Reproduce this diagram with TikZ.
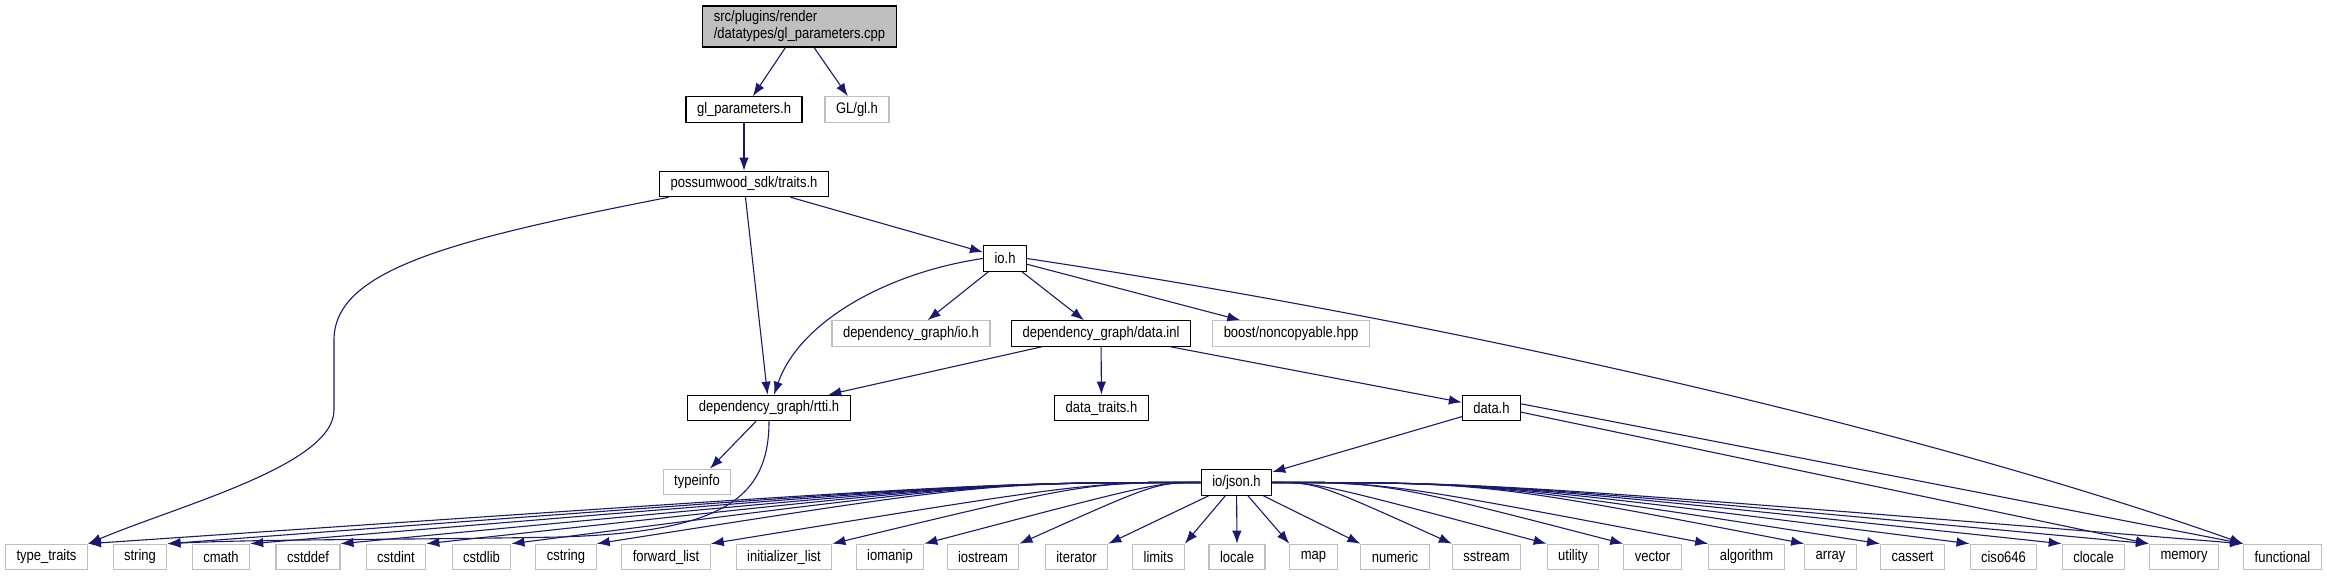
\documentclass[tikz,border=0pt]{standalone}
\usepackage{fontspec}
\usepackage{xcolor}
\usepackage{tikz}
\usetikzlibrary{arrows.meta}
\newfontfamily\doxfont[FakeStretch=0.85]{Liberation Sans}
\definecolor{edgeblue}{HTML}{191970}
\definecolor{extgray}{HTML}{BFBFBF}

\begin{document}
\begin{tikzpicture}[>={Latex[length=13pt, width=9.5pt]}, x=1pt, y=-1pt,
    every node/.style={font=\doxfont\fontsize{15.3}{17}\selectfont, inner xsep=11pt, inner ysep=0pt, minimum height=25.5pt},
    file/.style={draw=black, fill=white, line width=1.1pt},
    ext/.style={draw=extgray, fill=white, line width=1.1pt},
    dep/.style={->, edgeblue, line width=1.1pt}]
    \useasboundingbox (0,0) rectangle (2327,576);

    % 1. Tệp gốc và các tệp tiêu đề phía trên
    \node[file, fill=extgray, align=left, minimum height=41pt] (main) at (799.5,26.5) {src/plugins/render\\/datatypes/gl\_parameters.cpp};
    \node[file] (glp) at (744,109.5) {gl\_parameters.h};
    \node[ext] (glh) at (857,109.5) {GL/gl.h};
    \node[file] (traits) at (744,184) {possumwood\_sdk/traits.h};
    \node[file] (ioh) at (1005,258.5) {io.h};

    % 2. Hàng giữa
    \node[ext] (dgio) at (911,333.5) {dependency\_graph/io.h};
    \node[file] (inl) at (1101,333.5) {dependency\_graph/data.inl};
    \node[ext] (boost) at (1291,333.5) {boost/noncopyable.hpp};
    \node[file] (rtti) at (769,408) {dependency\_graph/rtti.h};
    \node[file] (dtraits) at (1101.5,408) {data\_traits.h};
    \node[file] (datah) at (1491.5,408) {data.h};
    \node[ext] (tinfo) at (697,482) {typeinfo};
    \node[file] (json) at (1236.5,482.5) {io/json.h};

    % 3. Hàng thư viện chuẩn phía dưới
    \foreach \n/\t/\x in {types/type\_traits/46.5, str/string/140, cmath/cmath/221, cstddef/cstddef/308,
        cstdint/cstdint/396, cstdlib/cstdlib/481.5, cstring/cstring/566, fwd/forward\_list/666,
        initl/initializer\_list/784, iomanip/iomanip/890, iostream/iostream/983, iter/iterator/1076.5,
        limits/limits/1158.5, locale/locale/1237, map/map/1313.5, numeric/numeric/1395,
        sstream/sstream/1486.5, utility/utility/1573, vector/vector/1652.5, algo/algorithm/1746.5,
        array/array/1830.5, cassert/cassert/1912.5, ciso/ciso646/2003.5, cloc/clocale/2093.5,
        mem/memory/2184, func/functional/2282.5}
        \node[ext] (\n) at (\x,557) {\t};

    % 4. Các mũi tên phụ thuộc
    \draw[dep] (main) -- (glp);
    \draw[dep] (main) -- (glh);
    \draw[dep] (glp) -- (traits);
    \draw[dep] (traits) -- (ioh);
    \draw[dep] (traits) -- (rtti);
    \draw[dep] (traits.-170) .. controls (450,240) and (334,270) .. (334,340) -- (334,410)
                             .. controls (334,465) and (180,505) .. (types.north east);
    \draw[dep] (ioh.west) .. controls (890,272) and (800,320) .. ([xshift=5pt]rtti.north);
    \draw[dep] (ioh) -- (dgio);
    \draw[dep] (ioh) -- (inl);
    \draw[dep] (ioh) -- (boost);
    \draw[dep] (ioh.east) .. controls (1500,330) and (1950,440) .. (func.north west);
    \draw[dep] (inl) -- (rtti);
    \draw[dep] (inl) -- (dtraits);
    \draw[dep] (inl) -- (datah);
    \draw[dep] (rtti) -- (tinfo);
    \draw[dep] (rtti.south) .. controls (769,500) and (720,532) .. (560,537)
                            .. controls (400,540) and (260,539) .. (str.north east);
    \draw[dep] (datah) -- (json);
    \draw[dep] (datah.-8) -- (mem.north west);
    \draw[dep] (datah.8) -- (func.north west);

    % 5. io/json.h tới từng tệp chuẩn
    \foreach \n/\a/\c in {types/north east/-250, str/north east/-250, cmath/north east/-250,
        cstddef/north east/-250, cstdint/north east/-250, cstdlib/north east/-250,
        cstring/north east/-250, fwd/north east/-150, initl/north east/-150,
        iomanip/north east/-80, iostream/north east/-80, sstream/north west/80,
        utility/north west/80, vector/north west/150, algo/north west/150,
        array/north west/250, cassert/north west/250, ciso/north west/250,
        cloc/north west/250, mem/north west/250, func/north west/250}
        \draw[dep] (json) .. controls +(\c,0) .. (\n.\a);
    \foreach \n/\a in {iter/north east, limits/north east, locale/north, map/north west, numeric/north west}
        \draw[dep] (json) -- (\n.\a);

\end{tikzpicture}
\end{document}
